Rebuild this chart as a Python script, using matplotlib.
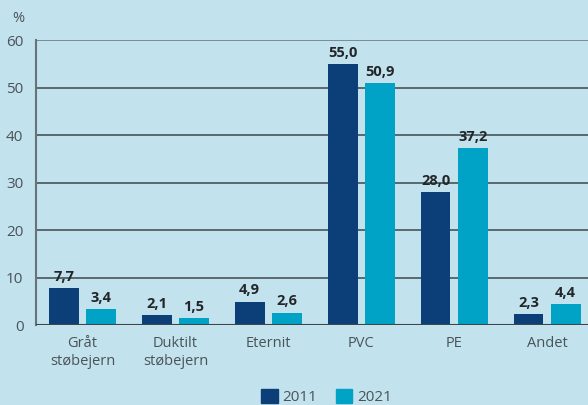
import numpy as np
import matplotlib.pyplot as plt
from matplotlib.patches import Patch

categories = ["Gråt\nstøbejern", "Duktilt\nstøbejern", "Eternit", "PVC", "PE", "Andet"]
vals_2011 = [7.7, 2.1, 4.9, 55.0, 28.0, 2.3]
vals_2021 = [3.4, 1.5, 2.6, 50.9, 37.2, 4.4]
years = ["2011", "2021"]
yticks = [0, 10, 20, 30, 40, 50, 60]

bg = "#c2e2ed"
dark = "#0c3f78"
cyan = "#00a3c6"
txt = "#4a5358"

plt.rcParams['font.family'] = ['Open Sans', 'DejaVu Sans']

fig = plt.figure(figsize=(5.88, 4.05), dpi=100, facecolor=bg)
ax = fig.add_axes([0.0612, 0.1975, 0.9388, 0.7035])
ax.set_facecolor(bg)

x = np.arange(len(categories))
w = 0.32
off = 0.2
b1 = ax.bar(x - off, vals_2011, w, color=dark, zorder=3)
b2 = ax.bar(x + off, vals_2021, w, color=cyan, zorder=3)

def fmt(v):
    return f"{v:.1f}".replace(".", ",")

for bars, vals in [(b1, vals_2011), (b2, vals_2021)]:
    for b, v in zip(bars, vals):
        ax.text(b.get_x() + b.get_width() / 2, v + 0.9, fmt(v), ha="center", va="bottom",
                fontsize=10.5, fontweight="bold", color="#222629")

ax.set_xlim(-0.5, 5.44)
ax.set_ylim(0, 60)
ax.set_yticks(yticks)
ax.set_yticklabels([str(t) for t in yticks], fontsize=11, color=txt)
ax.set_xticks(x)
ax.set_xticklabels(categories, fontsize=10.5, color=txt, linespacing=1.3)
ax.tick_params(length=0, pad=8)
ax.tick_params(axis="y", pad=9)
for t in yticks:
    ax.axhline(t, color="#3c474b" if t not in (0, 60) else "#667479", lw=1.1, zorder=1)
for s in ["top", "right", "bottom"]:
    ax.spines[s].set_visible(False)
ax.spines["left"].set_color("#667479")
ax.spines["left"].set_linewidth(1.5)
ax.axhline(0, color="#3c474b", lw=1.5, zorder=4)

fig.text(0.031, 0.955, "%", fontsize=10.5, color=txt, ha="center", va="center")

handles = [Patch(color=dark), Patch(color=cyan)]
fig.legend(handles, years, loc="center", bbox_to_anchor=(0.555, 0.02), ncol=2, frameon=False,
           fontsize=11, handlelength=1.1, handleheight=1.1, handletextpad=0.3, columnspacing=1.2,
           labelcolor=txt)

fig.savefig("out.png", dpi=100, facecolor=bg)
